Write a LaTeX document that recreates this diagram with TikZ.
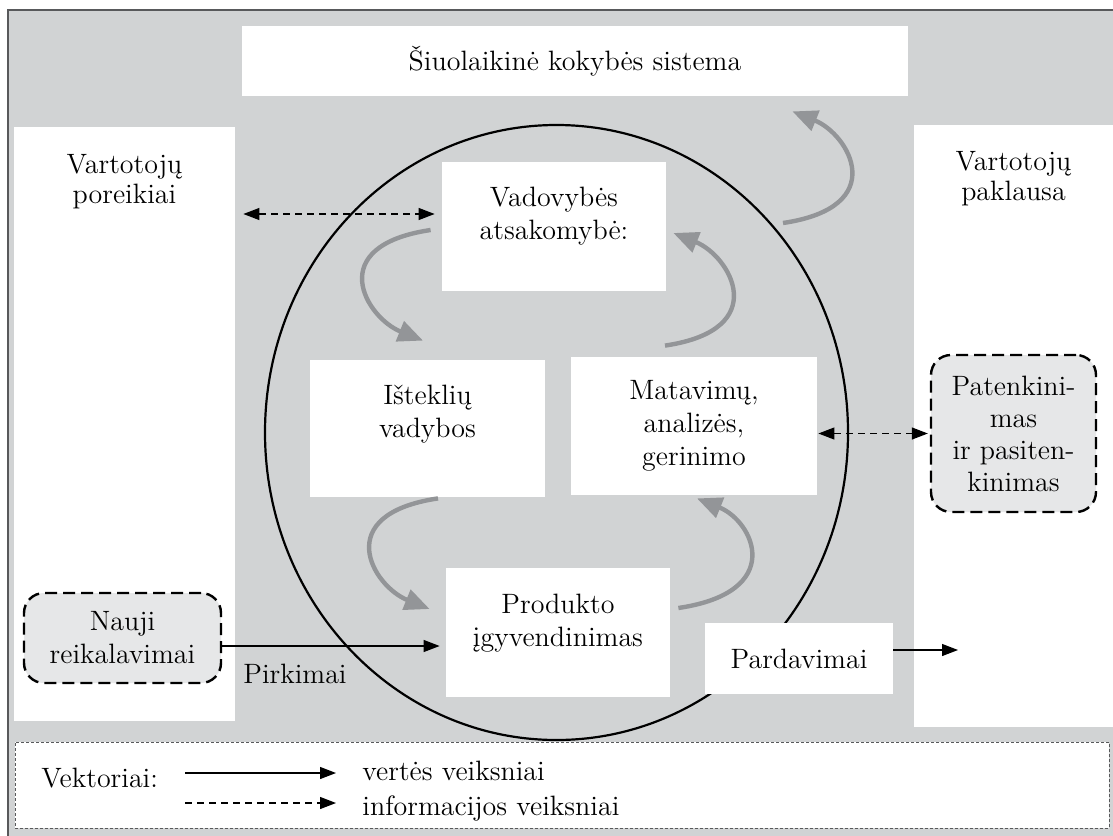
\documentclass[tikz,border=0pt]{standalone}
\usepackage{fontspec}
\usetikzlibrary{arrows.meta,calc}

\definecolor{panel}{HTML}{D1D3D4}
\definecolor{soft}{HTML}{E6E7E8}
\definecolor{flow}{HTML}{939598}
\definecolor{rim}{HTML}{58595B}

\begin{document}
\begin{tikzpicture}[x=0.5pt, y=-0.5pt,
  every node/.style={inner sep=0pt, align=center, font=\fontsize{14}{16.5}\selectfont},
  box/.style={fill=white},
  dashbox/.style={draw, fill=soft, line width=1.2pt, dash pattern=on 6pt off 3pt, rounded corners=10pt},
  valuearrow/.style={-{Triangle[length=8pt,width=6pt]}, line width=0.6pt},
  infoarrow/.style={{Triangle[length=8pt,width=6pt]}-{Triangle[length=8pt,width=6pt]}, line width=0.6pt, dash pattern=on 3.5pt off 2.5pt},
  grayflow/.style={-{Triangle[length=12.5pt,width=10.5pt]}, line width=2.2pt, draw=flow}]

\useasboundingbox (0,0) rectangle (1113,835);
\draw[fill=panel, draw=rim, line width=0.6pt] (8,10) rectangle (1120,842);

% columns and title
\node[box, minimum width=110.5pt, minimum height=297pt] (needs) at (124.5,424) {};
\node[box, minimum width=99.5pt, minimum height=301pt] (demand) at (1013.5,426) {};
\node[box, minimum width=333pt, minimum height=35pt] (top) at (575,61) {Šiuolaikinė kokybės sistema};
\node[anchor=north, font=\fontsize{14}{15}\selectfont] (needstxt) at ([yshift=-13.6pt]needs.north) {Vartotojų\\poreikiai};
\node[anchor=north, font=\fontsize{14}{15}\selectfont] (demandtxt) at ([yshift=-13.1pt]demand.north) {Vartotojų\\paklausa};

% the system
\draw[line width=1.1pt] (556.5,432.5) ellipse [x radius=291.5, y radius=307.5];

% processes
\foreach \name/\x/\y/\w/\h in {vad/554/226.5/112pt/64.5pt, ist/427.5/428.5/117.5pt/68.5pt, prod/558/632.5/112pt/64.5pt}
  \node[box, minimum width=\w, minimum height=\h] (\name) at (\x,\y) {};
\node (vadtxt) at ([yshift=5pt]vad.center) {Vadovybės\\atsakomybė:};
\node (isttxt) at ([yshift=7pt]ist.center) {Išteklių\\vadybos};
\node (prodtxt) at ([yshift=4.5pt]prod.center) {Produkto\\įgyvendinimas};
\node[box, minimum width=123pt, minimum height=69pt] (mat) at (694,426) {Matavimų,\\analizės,\\gerinimo};
\node[box, minimum width=94pt, minimum height=35.5pt] (sale) at (799,658.5) {Pardavimai};

% dashed goals
\node[dashbox, minimum width=82.5pt, minimum height=78.5pt, font=\fontsize{14}{16}\selectfont] (sat) at (1013.5,433.5) {Patenkini-\\mas\\ir pasiten-\\kinimas};
\node[dashbox, minimum width=98.5pt, minimum height=45pt] (req) at (122.5,638) {Nauji\\reikalavimai};

% gray cycle
\coordinate (sysout) at (783,223);
\foreach \a/\ax/\ay/\b/\bx/\by/\d in {
    vad.west/-11/3.5/ist.north/-4.5/-19/1,
    ist.south/10.5/1/prod.west/-16/-23.5/1,
    prod.east/8/-24.5/mat.south/3/3/-1,
    mat.north/-29/-11/vad.east/7/6.5/-1,
    sysout/0/0/top.south east/-116/15/-1}
  \draw[grayflow] ([shift={(\ax,\ay)}]\a) .. controls +(-108*\d,16*\d) and +(-57*\d,-23*\d) .. ([shift={(\bx,\by)}]\b);

% information and value
\coordinate (ask) at ([yshift=6.25pt]vad.west);
\draw[infoarrow, shorten <=4pt, shorten >=3.5pt] (ask -| needs.east) -- (ask);
\draw[infoarrow, shorten <=0.5pt, shorten >=1pt] (sat.west -| mat.east) -- (sat.west);
\coordinate (buyline) at ([yshift=-4pt]req.east);
\draw[valuearrow, shorten >=3pt] (buyline) -- (buyline -| prod.west);
\node[anchor=base] (buy) at (295,683) {Pirkimai};
\coordinate (market) at (958,650);
\draw[valuearrow] (sale.east |- market) -- (market);

% legend
\node[draw=rim, line width=0.5pt, dash pattern=on 1.5pt off 1pt, fill=white, minimum width=547pt, minimum height=43pt] (legend) at (562,785) {};
\node[anchor=base west] (vek) at (41,787) {Vektoriai:};
\node[anchor=base west] (val) at (362,780) {vertės veiksniai};
\node[anchor=base west] (inf) at (362,815) {informacijos veiksniai};
\coordinate (l1) at (185,773);
\coordinate (l2) at (185,803);
\draw[valuearrow, shorten >=13pt] (l1) -- (l1 -| val.west);
\draw[valuearrow, dash pattern=on 3.5pt off 2.5pt, shorten >=13pt] (l2) -- (l2 -| inf.west);
\end{tikzpicture}
\end{document}
